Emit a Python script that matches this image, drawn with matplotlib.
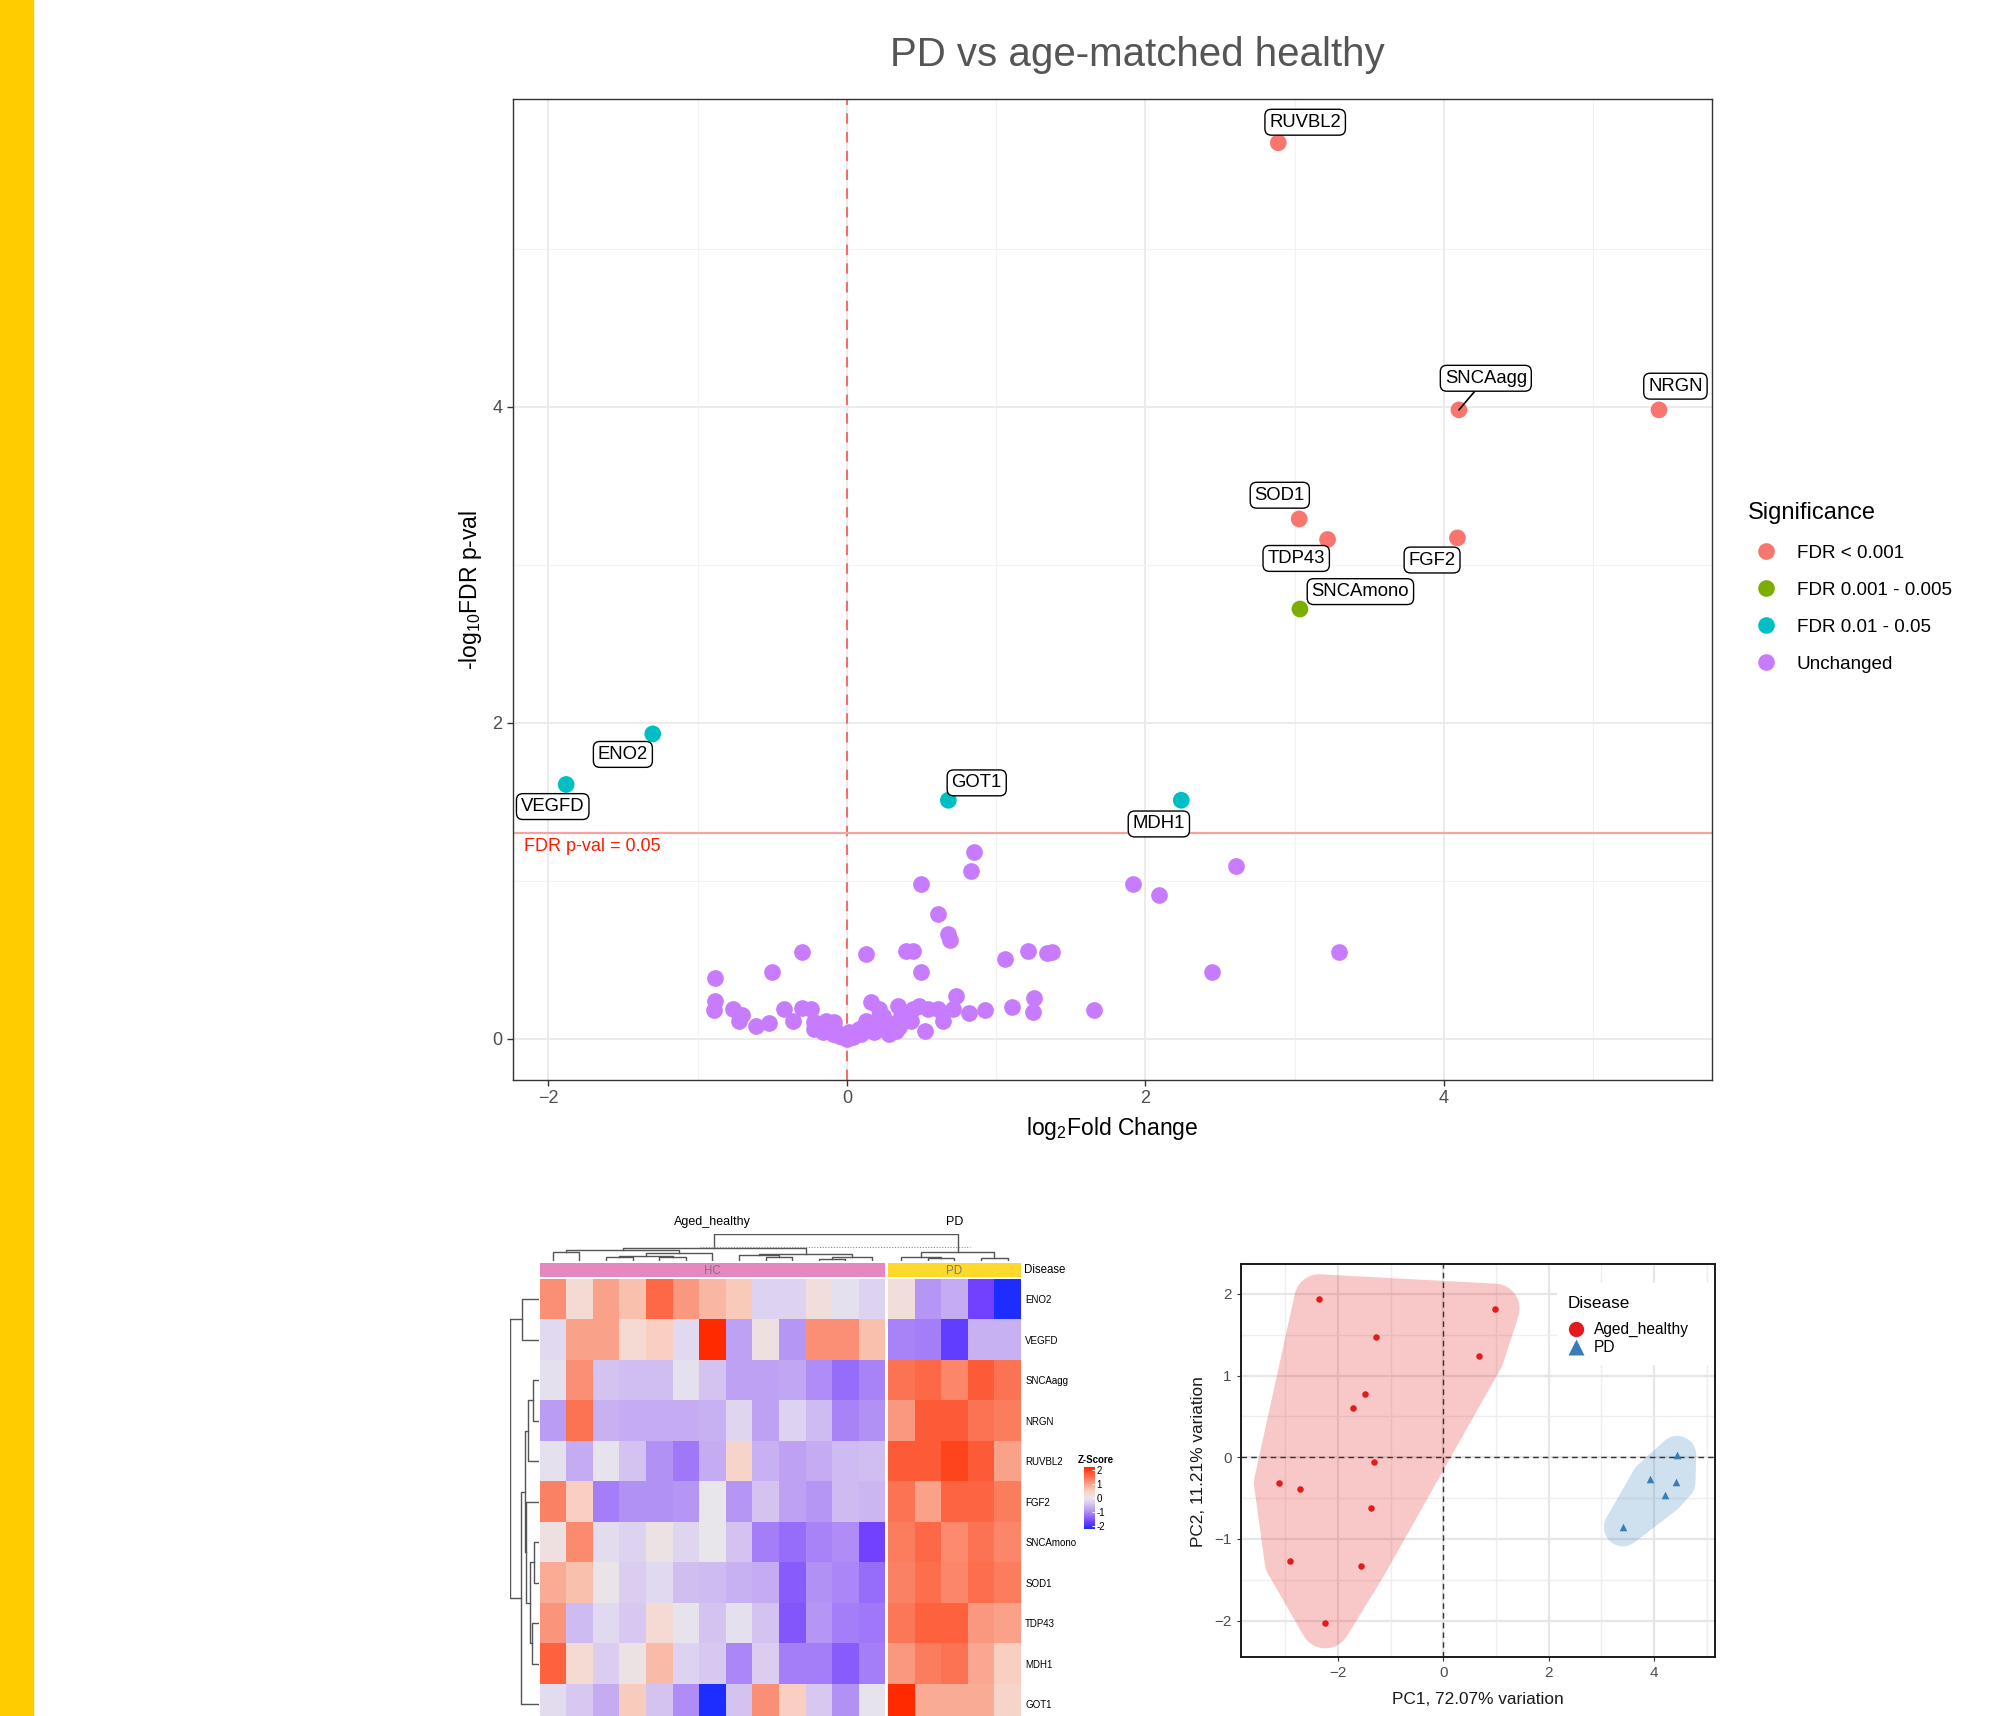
import matplotlib.pyplot as plt
import numpy as np
from matplotlib.colors import LinearSegmentedColormap, Normalize
from matplotlib.patches import Rectangle
from matplotlib.lines import Line2D

plt.rcParams['font.family'] = ['Liberation Sans', 'DejaVu Sans']
plt.rcParams['mathtext.fontset'] = 'custom'
plt.rcParams['mathtext.rm'] = 'Liberation Sans'
plt.rcParams['mathtext.it'] = 'Liberation Sans:italic'

# ---------------- volcano data ----------------
sig_genes = ['RUVBL2', 'SNCAagg', 'NRGN', 'SOD1', 'TDP43', 'FGF2', 'SNCAmono',
             'ENO2', 'VEGFD', 'GOT1', 'MDH1']
sig_fc = [2.89, 4.10, 5.44, 3.03, 3.22, 4.09, 3.035, -1.30, -1.88, 0.68, 2.24]
sig_p = [5.67, 3.98, 3.98, 3.29, 3.16, 3.17, 2.72, 1.93, 1.61, 1.51, 1.51]
sig_class = ['FDR < 0.001'] * 6 + ['FDR 0.001 - 0.005'] + ['FDR 0.01 - 0.05'] * 4
label_x = [3.07, 4.28, 5.55, 2.90, 3.01, 3.92, 3.44, -1.50, -1.97, 0.87, 2.09]
label_y = [5.80, 4.18, 4.13, 3.44, 3.04, 3.03, 2.83, 1.80, 1.47, 1.62, 1.36]

unch_fc = [0.854, 0.830, 0.499, 1.918, 2.088, 2.609, 0.609, 0.681, 0.690, -0.302,
           0.128, 0.397, 0.445, 1.057, 1.216, 1.338, 1.377, -0.884, -0.499, 0.499,
           3.298, 2.449, 1.657, 1.106, 1.244, 1.253,
           -0.882, -0.893, -0.761, -0.703, -0.72, -0.609, -0.519, -0.419, -0.359, -0.300,
           -0.240, -0.218, -0.140, -0.084, -0.162, -0.095, -0.028, 0.039, 0.095, 0.128,
           0.162, 0.184, 0.240, 0.218, 0.285, 0.307, 0.341, 0.352, 0.441, 0.486,
           0.430, 0.524, 0.542, 0.609, 0.642, 0.732, 0.709, 0.821, 0.928, 0.017,
           0.084, 0.151, 0.218, 0.262, 0.207, 0.363, 0.330, -0.073, -0.218, 0.0,
           -0.05, 0.06]
unch_p = [1.183, 1.063, 0.983, 0.983, 0.912, 1.091, 0.789, 0.663, 0.627, 0.552,
          0.535, 0.554, 0.554, 0.503, 0.554, 0.543, 0.552, 0.387, 0.421, 0.421,
          0.552, 0.421, 0.185, 0.200, 0.168, 0.259,
          0.242, 0.186, 0.190, 0.152, 0.116, 0.084, 0.101, 0.190, 0.116, 0.196,
          0.190, 0.063, 0.116, 0.105, 0.042, 0.032, 0.011, 0.011, 0.032, 0.116,
          0.236, 0.042, 0.148, 0.190, 0.032, 0.095, 0.211, 0.074, 0.190, 0.211,
          0.116, 0.053, 0.190, 0.190, 0.116, 0.270, 0.190, 0.164, 0.186, 0.042,
          0.063, 0.074, 0.063, 0.105, 0.127, 0.148, 0.053, 0.053, 0.105, 0.0,
          0.02, 0.03]

sig_levels = ['FDR < 0.001', 'FDR 0.001 - 0.005', 'FDR 0.01 - 0.05', 'Unchanged']
sig_colors = ['#F8766D', '#7CAE00', '#00BFC4', '#C77CFF']
fdr_cut = 0.05

# ---------------- heatmap data ----------------
hm_genes = ['ENO2', 'VEGFD', 'SNCAagg', 'NRGN', 'RUVBL2', 'FGF2', 'SNCAmono',
            'SOD1', 'TDP43', 'MDH1', 'GOT1']
z_hc = [
    [1.2, 0.3, 1.0, 0.7, 1.6, 1.1, 0.8, 0.6, -0.3, -0.3, 0.2, -0.1, -0.3],
    [-0.2, 1.0, 1.0, 0.3, 0.5, -0.2, 2.2, -0.8, 0.15, -0.9, 1.2, 1.2, 0.7],
    [-0.1, 1.2, -0.45, -0.5, -0.5, -0.1, -0.45, -0.8, -0.8, -0.75, -1.0, -1.3, -1.1],
    [-0.85, 1.5, -0.65, -0.7, -0.7, -0.7, -0.65, -0.25, -0.8, -0.3, -0.55, -1.1, -0.95],
    [-0.1, -0.7, -0.05, -0.45, -0.95, -1.2, -0.7, 0.4, -0.65, -0.8, -0.7, -0.55, -0.5],
    [1.35, 0.5, -1.15, -0.95, -0.95, -0.9, 0.0, -0.9, -0.45, -0.8, -0.9, -0.55, -0.6],
    [0.15, 1.25, -0.15, -0.3, 0.1, -0.25, 0.0, -0.45, -1.15, -1.3, -1.1, -1.0, -1.7],
    [0.9, 0.7, 0.05, -0.35, -0.2, -0.5, -0.55, -0.65, -0.7, -1.45, -0.95, -1.05, -1.3],
    [1.15, -0.55, -0.2, -0.4, 0.3, -0.05, -0.45, -0.1, -0.45, -1.5, -0.9, -1.15, -1.2],
    [1.7, 0.3, -0.35, 0.1, 0.75, -0.3, -0.4, -1.05, -0.35, -1.15, -1.15, -1.45, -1.15],
    [-0.15, -0.4, -0.7, 0.55, -0.45, -1.0, -2.2, -0.45, 1.2, 0.5, -0.4, -0.95, -0.05],
]
z_pd = [
    [0.2, -0.9, -0.7, -1.7, -2.2],
    [-1.1, -1.15, -1.8, -0.65, -0.65],
    [1.5, 1.6, 1.3, 1.75, 1.5],
    [1.1, 1.75, 1.75, 1.5, 1.4],
    [1.75, 1.75, 1.95, 1.75, 1.0],
    [1.5, 1.0, 1.65, 1.65, 1.4],
    [1.4, 1.6, 1.25, 1.5, 1.3],
    [1.35, 1.55, 1.3, 1.55, 1.4],
    [1.45, 1.7, 1.7, 1.1, 1.0],
    [1.1, 1.4, 1.5, 0.95, 0.5],
    [2.2, 0.9, 0.9, 0.9, 0.4],
]
# dendrograms: (left id, right id, height); leaves are 0..n-1 in drawn order
row_merges = [(0, 1, 43), (2, 3, 15), (12, 4, 26), (6, 7, 13), (8, 9, 18),
              (14, 15, 23), (5, 16, 32), (13, 17, 36), (18, 10, 45), (11, 19, 73)]
col_merges = [(0, 1, 26), (2, 3, 11), (4, 5, 11), (19, 20, 16), (21, 6, 25),
              (18, 22, 33), (8, 9, 13), (7, 24, 18), (10, 11, 7), (26, 12, 11),
              (25, 27, 20), (23, 28, 38), (14, 15, 8), (13, 30, 13), (16, 17, 8),
              (31, 32, 26), (29, 33, 81)]

# ---------------- PCA data ----------------
pc1_hc = [-2.353, 0.976, -1.281, 0.685, -1.492, -1.715, -1.315, -3.119, -2.719,
          -1.363, -2.915, -1.566, -2.237]
pc2_hc = [1.935, 1.820, 1.473, 1.245, 0.771, 0.604, -0.061, -0.314, -0.384,
          -0.624, -1.273, -1.331, -2.033]
pc1_pd = [4.441, 3.932, 4.427, 4.203, 3.410]
pc2_pd = [0.029, -0.269, -0.306, -0.465, -0.857]
pca_groups = ['Aged_healthy', 'PD']
pca_colors = ['#E41A1C', '#377EB8']
pca_markers = ['o', '^']

W, H = 2012, 1716
fig = plt.figure(figsize=(W / 100, H / 100), dpi=100)


def px_axes(x0, y0, x1, y1):
    return fig.add_axes([x0 / W, 1 - y1 / H, (x1 - x0) / W, (y1 - y0) / H])


def fig_text(x, y, s, **kw):
    fig.text(x / W, 1 - y / H, s, **kw)


fig.add_artist(Rectangle((0, 0), 33 / W, 1, transform=fig.transFigure,
                         color='#FFCC00', zorder=0))

# ================= volcano =================
ax = px_axes(513, 99, 1712, 1080)
ax.set_xlim(-2.236, 5.795)
ax.set_ylim(-0.26, 5.947)
ax.set_xticks([-2, 0, 2, 4])
ax.set_xticks([-1, 1, 3, 5], minor=True)
ax.set_yticks([0, 2, 4])
ax.set_yticks([1, 3, 5], minor=True)
ax.grid(which='major', color='#EBEBEB', lw=1.4)
ax.grid(which='minor', color='#F2F2F2', lw=0.8)
ax.set_axisbelow(True)
ax.tick_params(which='minor', length=0)
ax.tick_params(which='major', length=4, color='#333333', labelsize=13,
               labelcolor='#4D4D4D', width=1)
for s in ax.spines.values():
    s.set_color('#333333')
    s.set_linewidth(1)

ax.axvline(0, color='#F07070', lw=1.5, dashes=(5, 4), zorder=1)
ax.axhline(-np.log10(fdr_cut), color='#F5A3A3', lw=1.6, zorder=1)
ax.text(-2.16, 1.217, 'FDR p-val = %s' % fdr_cut, color='#FF1A00', fontsize=13,
        ha='left', va='center')

ax.scatter(unch_fc, unch_p, s=145, color=sig_colors[3], lw=0, zorder=2)
sig_cols = [sig_colors[sig_levels.index(c)] for c in sig_class]
ax.scatter(sig_fc, sig_p, s=145, c=sig_cols, lw=0, zorder=2)

box = dict(boxstyle='round,pad=0.24,rounding_size=0.35', fc='white', ec='black', lw=1)
for g, x, y, lx, ly in zip(sig_genes, sig_fc, sig_p, label_x, label_y):
    kw = {}
    if g == 'SNCAagg':
        kw['arrowprops'] = dict(arrowstyle='-', color='black', lw=1.2,
                                shrinkA=0, shrinkB=0)
    ax.annotate(g, xy=(x, y), xytext=(lx, ly), ha='center', va='center',
                fontsize=13.3, bbox=box, zorder=4, **kw)

ax.set_xlabel('log$_2$Fold Change', fontsize=16.5, va='center')
ax.xaxis.set_label_coords(0.5, (1080 - 1128) / 981)
ax.set_ylabel('-log$_{10}$FDR p-val', fontsize=16.5, va='center')
ax.yaxis.set_label_coords((470 - 513) / 1199, 0.5)
fig_text(1137, 55, 'PD vs age-matched healthy', fontsize=29, color='#555555',
         ha='center', va='center')

handles = [Line2D([], [], marker='o', ls='', color=c, markersize=12, mec='none')
           for c in sig_colors]
leg = fig.legend(handles, sig_levels, loc='upper left',
                 bbox_to_anchor=(1738 / W, 1 - 493 / H), frameon=False,
                 title='Significance', fontsize=13.6, title_fontsize=17,
                 labelspacing=1.05, handlelength=2.0, handletextpad=0.6,
                 borderpad=0)
leg._legend_box.align = 'left'

# ================= heatmap =================
cmap = LinearSegmentedColormap.from_list('zs', [
    (0.0, '#1E2DFF'), (0.5 / 4.4, '#7241FF'), (1.1 / 4.4, '#A882F7'),
    (1.5 / 4.4, '#C5ACF2'), (1.9 / 4.4, '#DDD2F0'), (2.2 / 4.4, '#E8E6EC'),
    (2.5 / 4.4, '#F5DAD3'), (2.8 / 4.4, '#F9CAB9'), (3.3 / 4.4, '#FA9880'),
    (3.85 / 4.4, '#FD6643'), (1.0, '#FF2A00')])
norm = Normalize(-2.2, 2.2)
n_hc, n_pd, gap = len(z_hc[0]), len(z_pd[0]), 0.1
n_rows = len(hm_genes)
x_end = n_hc + gap + n_pd

hm_top, row_h = 1279, 40.5
hm_bot = hm_top + row_h * n_rows
axh = px_axes(539.5, hm_top, 1021, hm_bot)
axh.pcolormesh(np.arange(n_hc + 1), np.arange(n_rows + 1), np.array(z_hc),
               cmap=cmap, norm=norm)
axh.pcolormesh(n_hc + gap + np.arange(n_pd + 1), np.arange(n_rows + 1),
               np.array(z_pd), cmap=cmap, norm=norm)
axh.set_xlim(0, x_end)
axh.set_ylim(n_rows, 0)
axh.set_xticks([])
axh.yaxis.tick_right()
axh.set_yticks(np.arange(n_rows) + 0.5)
axh.set_yticklabels(hm_genes, fontsize=7)
axh.tick_params(axis='y', length=0, pad=3)
for s in axh.spines.values():
    s.set_visible(False)

# annotation bar
axa = px_axes(539.5, 1263, 1021, 1277)
axa.barh(0, n_hc, left=0, height=1, color='#E687C2')
axa.barh(0, n_pd, left=n_hc + gap, height=1, color='#FCD92A')
axa.set_xlim(0, x_end)
axa.set_ylim(-0.5, 0.5)
axa.axis('off')
axa.text(n_hc / 2, -0.05, 'HC', ha='center', va='center', fontsize=8.3, color='#7A7A7A')
axa.text(n_hc + gap + n_pd / 2, -0.05, 'PD', ha='center', va='center', fontsize=8.3,
         color='#7A7A7A')
fig_text(1024, 1270, 'Disease', fontsize=8.3, ha='left', va='center')


def draw_dendro(a, merges, leaf_pos, horizontal=False):
    pos = {i: p for i, p in enumerate(leaf_pos)}
    hgt = {i: 0 for i in range(len(leaf_pos))}
    nid = len(leaf_pos)
    for l, r, h in merges:
        xs = [pos[l], pos[l], pos[r], pos[r]]
        ys = [hgt[l], h, h, hgt[r]]
        if horizontal:
            a.plot(ys, xs, color='#555555', lw=1)
        else:
            a.plot(xs, ys, color='#555555', lw=1)
        pos[nid] = (pos[l] + pos[r]) / 2
        hgt[nid] = h
        nid += 1


axr = px_axes(510, hm_top, 538.7, hm_bot)
draw_dendro(axr, row_merges, np.arange(n_rows) + 0.5, horizontal=True)
axr.set_xlim(73, 0)
axr.set_ylim(n_rows, 0)
axr.axis('off')

axc = px_axes(539.5, 1234, 1021, 1261)
col_pos = list(np.arange(n_hc) + 0.5) + list(n_hc + gap + np.arange(n_pd) + 0.5)
draw_dendro(axc, col_merges, col_pos)
axc.plot([6.03, 16.2], [43, 43], color='#888888', lw=0.8, ls=(0, (1, 1.5)))
axc.set_xlim(0, x_end)
axc.set_ylim(0, 81)
axc.axis('off')
fig_text(712, 1222, 'Aged_healthy', fontsize=9, ha='center', va='center')
fig_text(955, 1222, 'PD', fontsize=9, ha='center', va='center')

# colour key
axk = px_axes(1084, 1467, 1095, 1529)
axk.imshow(np.linspace(2.2, -2.2, 200).reshape(-1, 1), cmap=cmap, norm=norm,
           aspect='auto', extent=[0, 1, -2.2, 2.2])
axk.set_xticks([])
axk.yaxis.tick_right()
axk.set_yticks([-2, -1, 0, 1, 2])
axk.set_yticklabels(['-2', '-1', '0', '1', '2'], fontsize=7)
axk.tick_params(axis='y', length=2, color='white', pad=1, direction='in')
for s in axk.spines.values():
    s.set_visible(False)
fig_text(1078, 1460, 'Z-Score', fontsize=7, fontweight='bold', ha='left', va='center')

# ================= PCA =================
px0, py0, px1, py1 = 1240.7, 1264.3, 1715.4, 1657.3
axp = px_axes(px0, py0, px1, py1)
axp.set_xlim(-3.844, 5.166)
axp.set_ylim(-2.449, 2.363)
axp.set_xticks([-2, 0, 2, 4])
axp.set_xticks([-3, -1, 1, 3, 5], minor=True)
axp.set_yticks([-2, -1, 0, 1, 2])
axp.set_yticks([-1.5, -0.5, 0.5, 1.5], minor=True)
axp.grid(which='major', color='#E6E6E6', lw=1.6)
axp.grid(which='minor', color='#EEEEEE', lw=1.0)
axp.set_axisbelow(True)
axp.tick_params(which='minor', length=0)
axp.tick_params(which='major', length=3, color='#333333', labelsize=11,
                labelcolor='#4D4D4D')
for s in axp.spines.values():
    s.set_color('#1A1A1A')
    s.set_linewidth(1.4)

# pixels per data unit, so the hull padding is round on screen
ppx = (px1 - px0) / (5.166 + 3.844)
ppy = (py1 - py0) / (2.363 + 2.449)


def convex_hull(pts):
    pts = sorted(set(map(tuple, pts)))

    def cross(o, a, b):
        return (a[0] - o[0]) * (b[1] - o[1]) - (a[1] - o[1]) * (b[0] - o[0])
    lower, upper = [], []
    for p in pts:
        while len(lower) >= 2 and cross(lower[-2], lower[-1], p) <= 0:
            lower.pop()
        lower.append(p)
    for p in reversed(pts):
        while len(upper) >= 2 and cross(upper[-2], upper[-1], p) <= 0:
            upper.pop()
        upper.append(p)
    return np.array(lower[:-1] + upper[:-1])


def padded_hull(xs, ys, r):
    t = np.linspace(0, 2 * np.pi, 60, endpoint=False)
    pts = []
    for x, y in zip(xs, ys):
        for a in t:
            pts.append((round(x + r / ppx * np.cos(a), 6), round(y + r / ppy * np.sin(a), 6)))
    return convex_hull(pts)


h1 = padded_hull(pc1_hc, pc2_hc, 25)
h2 = padded_hull(pc1_pd, pc2_pd, 19)
axp.fill(h1[:, 0], h1[:, 1], color=pca_colors[0], alpha=0.24, lw=0, zorder=1)
axp.fill(h2[:, 0], h2[:, 1], color=pca_colors[1], alpha=0.24, lw=0, zorder=1)
axp.axvline(0, color='#333333', lw=1, ls=(0, (4, 3)), zorder=2)
axp.axhline(0, color='#333333', lw=1, ls=(0, (4, 3)), zorder=2)
axp.scatter(pc1_hc, pc2_hc, s=22, marker=pca_markers[0], color=pca_colors[0], lw=0, zorder=3)
axp.scatter(pc1_pd, pc2_pd, s=30, marker=pca_markers[1], color=pca_colors[1], lw=0, zorder=3)

axp.set_xlabel('PC1, 72.07% variation', fontsize=12.4, color='#1A1A1A', va='center')
axp.xaxis.set_label_coords(0.5, (py1 - 1699) / (py1 - py0))
axp.set_ylabel('PC2, 11.21% variation', fontsize=12.4, color='#1A1A1A', va='center')
axp.yaxis.set_label_coords((1198.6 - px0) / (px1 - px0), 0.497)


# legend inside the PCA panel, placed in pixel terms
def pca_xy(x, y):
    return (x - px0) / (px1 - px0), (py1 - y) / (py1 - py0)


lx0, ly0 = pca_xy(1557, 1365)
lx1, ly1 = pca_xy(1714, 1283)
axp.add_patch(Rectangle((lx0, ly0), lx1 - lx0, ly1 - ly0, transform=axp.transAxes,
                        color='white', zorder=4, lw=0))
tx, ty = pca_xy(1568, 1303)
axp.text(tx, ty, 'Disease', transform=axp.transAxes, fontsize=12.3, ha='left',
         va='center', zorder=5)
for i, (g, c, m) in enumerate(zip(pca_groups, pca_colors, pca_markers)):
    mx, my = pca_xy(1576, 1329 + 18 * i)
    axp.plot([mx], [my], marker=m, ls='', color=c, markersize=11, mec='none',
             transform=axp.transAxes, zorder=5, clip_on=False)
    gx, gy = pca_xy(1594, 1329 + 18 * i)
    axp.text(gx, gy, g, transform=axp.transAxes, fontsize=11.2, ha='left',
             va='center', zorder=5)

fig.savefig('out.png', dpi=100)
